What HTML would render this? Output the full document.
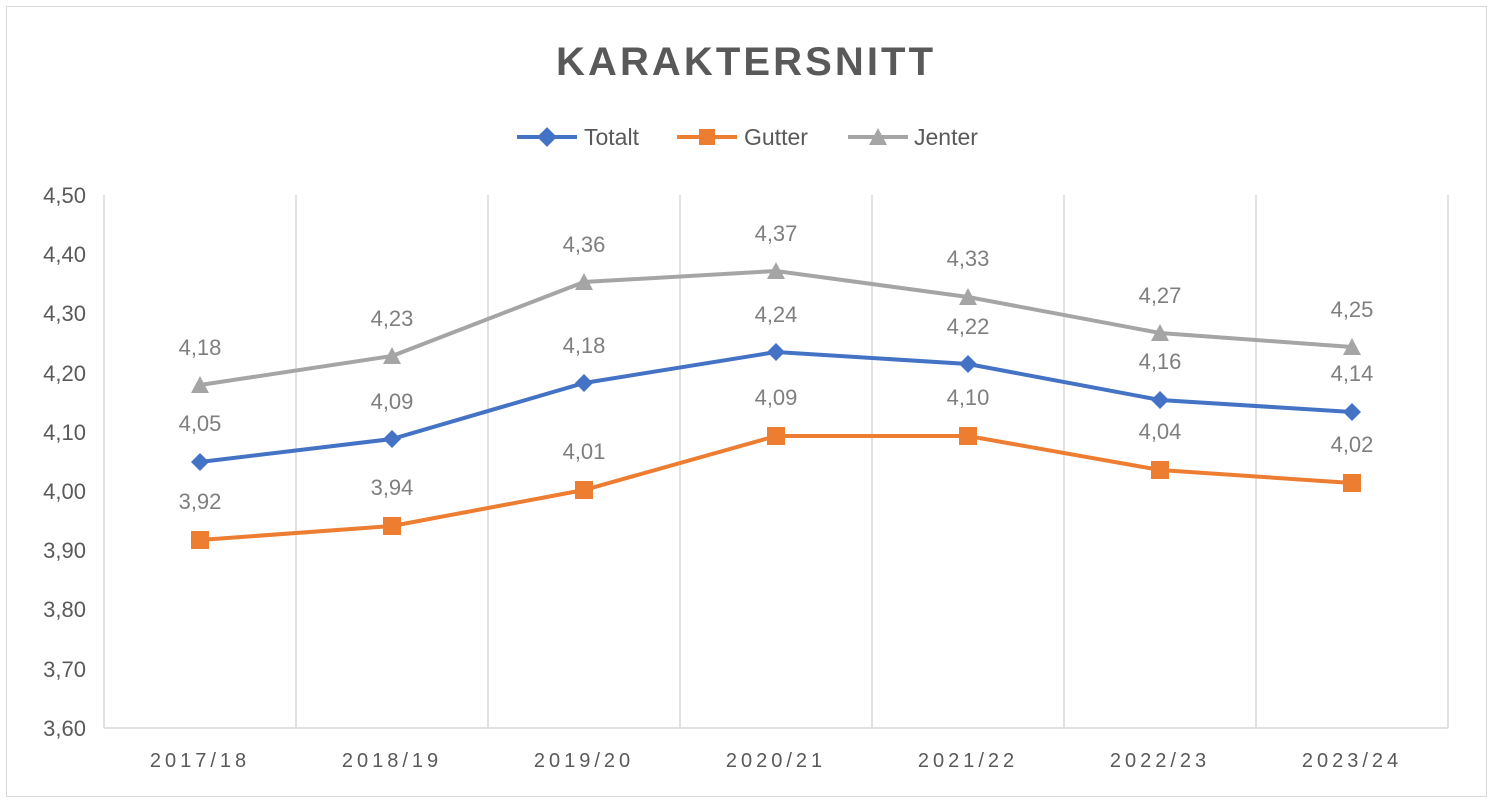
<!DOCTYPE html>
<html><head><meta charset="utf-8"><style>
html,body{margin:0;padding:0;background:#fff;}
svg{display:block;font-family:"Liberation Sans",sans-serif;}
</style></head><body>
<svg width="1493" height="804" viewBox="0 0 1493 804">
<rect x="6.5" y="6.5" width="1480" height="790" fill="#fff" stroke="#d9d9d9"/>
<text x="556" y="75" font-size="40" font-weight="bold" fill="#595959" textLength="377" lengthAdjust="spacing">KARAKTERSNITT</text>
<g font-size="23" fill="#595959">
<line x1="517" y1="137" x2="577" y2="137" stroke="#4472c4" stroke-width="4"/><rect x="540" y="130" width="14" height="14" fill="#4472c4" transform="rotate(45 547 137)"/><text x="584" y="145">Totalt</text>
<line x1="677" y1="137" x2="737" y2="137" stroke="#ed7d31" stroke-width="4"/><rect x="699" y="129" width="16" height="16" fill="#ed7d31"/><text x="744" y="145">Gutter</text>
<line x1="848" y1="137" x2="908" y2="137" stroke="#a5a5a5" stroke-width="4"/><polygon points="878,128 887,145 869,145" fill="#a5a5a5"/><text x="914" y="145">Jenter</text>
</g>
<g stroke="#d9d9d9" stroke-width="1.5">
<line x1="104" y1="195" x2="104" y2="728"/><line x1="296" y1="195" x2="296" y2="728"/><line x1="488" y1="195" x2="488" y2="728"/><line x1="680" y1="195" x2="680" y2="728"/><line x1="872" y1="195" x2="872" y2="728"/><line x1="1064" y1="195" x2="1064" y2="728"/><line x1="1256" y1="195" x2="1256" y2="728"/><line x1="1448" y1="195" x2="1448" y2="728"/>
<line x1="104" y1="728" x2="1448" y2="728"/>
</g>
<g font-size="22" fill="#595959" text-anchor="end">
<text x="86" y="203">4,50</text><text x="86" y="262">4,40</text><text x="86" y="321">4,30</text><text x="86" y="381">4,20</text><text x="86" y="440">4,10</text><text x="86" y="499">4,00</text><text x="86" y="558">3,90</text><text x="86" y="617">3,80</text><text x="86" y="677">3,70</text><text x="86" y="736">3,60</text>
</g>
<g font-size="20" fill="#595959" text-anchor="middle" letter-spacing="4">
<text x="200" y="767">2017/18</text><text x="392" y="767">2018/19</text><text x="584" y="767">2019/20</text><text x="776" y="767">2020/21</text><text x="968" y="767">2021/22</text><text x="1160" y="767">2022/23</text><text x="1352" y="767">2023/24</text>
</g>
<polyline points="200,385 392,356 584,282 776,271 968,297 1160,333 1352,347" fill="none" stroke="#a5a5a5" stroke-width="4"/>
<polyline points="200,462 392,439 584,383 776,352 968,364 1160,400 1352,412" fill="none" stroke="#4472c4" stroke-width="4"/>
<polyline points="200,540 392,526 584,490 776,436 968,436 1160,470 1352,483" fill="none" stroke="#ed7d31" stroke-width="4"/>
<g fill="#a5a5a5">
<polygon points="200,376 209,393 191,393"/><polygon points="392,347 401,364 383,364"/><polygon points="584,273 593,290 575,290"/><polygon points="776,262 785,279 767,279"/><polygon points="968,288 977,305 959,305"/><polygon points="1160,324 1169,341 1151,341"/><polygon points="1352,338 1361,355 1343,355"/>
</g>
<g fill="#4472c4">
<polygon points="200,453 209,462 200,471 191,462"/><polygon points="392,430 401,439 392,448 383,439"/><polygon points="584,374 593,383 584,392 575,383"/><polygon points="776,343 785,352 776,361 767,352"/><polygon points="968,355 977,364 968,373 959,364"/><polygon points="1160,391 1169,400 1160,409 1151,400"/><polygon points="1352,403 1361,412 1352,421 1343,412"/>
</g>
<g fill="#ed7d31">
<rect x="191" y="531" width="18" height="18"/><rect x="383" y="517" width="18" height="18"/><rect x="575" y="481" width="18" height="18"/><rect x="767" y="427" width="18" height="18"/><rect x="959" y="427" width="18" height="18"/><rect x="1151" y="461" width="18" height="18"/><rect x="1343" y="474" width="18" height="18"/>
</g>
<g font-size="22" fill="#7f7f7f" text-anchor="middle">
<text x="200" y="355">4,18</text><text x="392" y="326">4,23</text><text x="584" y="252">4,36</text><text x="776" y="241">4,37</text><text x="968" y="266">4,33</text><text x="1160" y="303">4,27</text><text x="1352" y="317">4,25</text>
<text x="200" y="431">4,05</text><text x="392" y="409">4,09</text><text x="584" y="353">4,18</text><text x="776" y="322">4,24</text><text x="968" y="334">4,22</text><text x="1160" y="369">4,16</text><text x="1352" y="381">4,14</text>
<text x="200" y="509">3,92</text><text x="392" y="495">3,94</text><text x="584" y="459">4,01</text><text x="776" y="405">4,09</text><text x="968" y="405">4,10</text><text x="1160" y="439">4,04</text><text x="1352" y="452">4,02</text>
</g>
</svg>
</body></html>
